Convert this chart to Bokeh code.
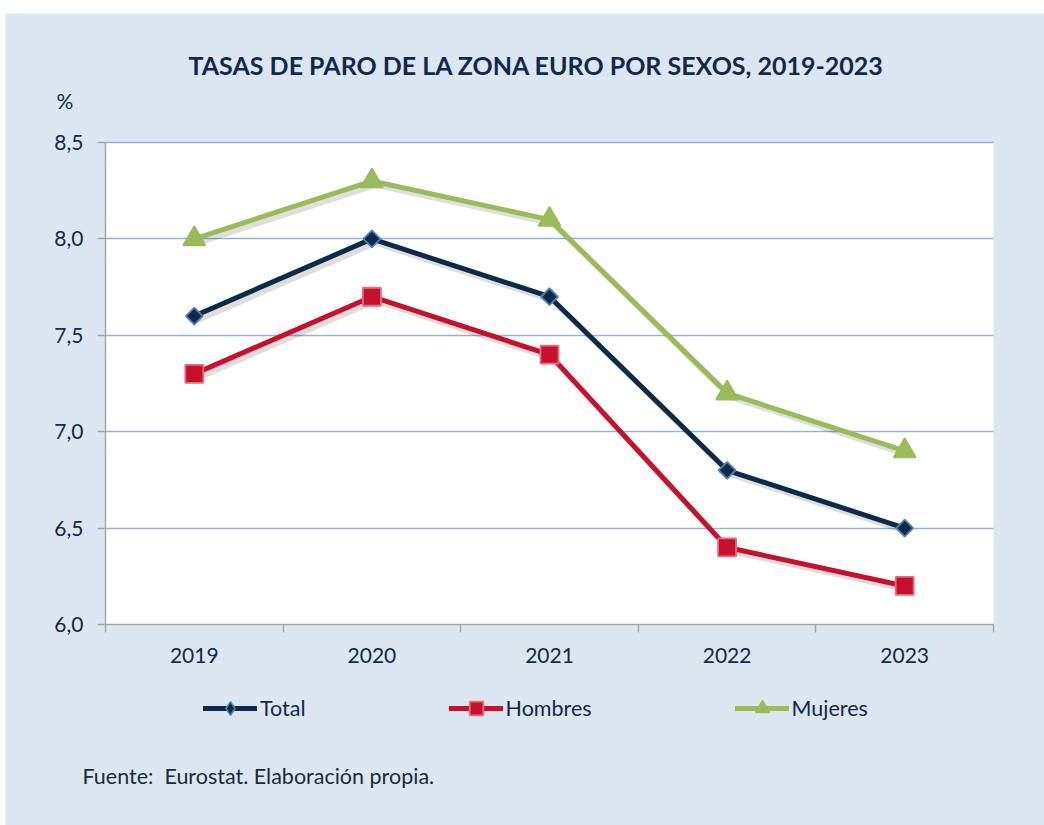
from math import pi
from bokeh.plotting import figure
from bokeh.models import Legend, LegendItem, FixedTicker, Label, Spacer, BoxAnnotation, LinearAxis
from bokeh.layouts import column, row
from bokeh.embed import file_html
from bokeh.resources import INLINE

years = ["2019", "2020", "2021", "2022", "2023"]
total = [7.6, 8.0, 7.7, 6.8, 6.5]
hombres = [7.3, 7.7, 7.4, 6.4, 6.2]
mujeres = [8.0, 8.3, 8.1, 7.2, 6.9]
y_ticks = [6.0, 6.5, 7.0, 7.5, 8.0, 8.5]
y_tick_labels = ["6,0", "6,5", "7,0", "7,5", "8,0", "8,5"]

FONT = "Lato"
NAVY = "#12294a"
BG = "#dce6f1"
GRID = "#95b3d7"
AXIS = "#a6a6a6"

n = len(years)
xs = [i + 0.5 for i in range(n)]
ymin, ymax = y_ticks[0], y_ticks[-1]

# layout geometry (pixels) -> view ranges so that the plot box sits where it should
W, H = 1039, 812
box_l, box_r, box_t, box_b = 100, 988, 129, 611
ppx = (box_r - box_l) / n
ppy = (box_b - box_t) / (ymax - ymin)
x_range = (-box_l / ppx, n + (W - box_r) / ppx)
y_range = (ymin - (H - box_b) / ppy, ymax + box_t / ppy)

p = figure(width=W, height=H, output_backend="svg", toolbar_location=None,
           x_range=x_range, y_range=y_range, min_border=0)
p.border_fill_color = BG
p.background_fill_color = BG
p.outline_line_color = None
p.add_layout(BoxAnnotation(left=0, right=n, bottom=ymin, top=ymax, fill_color="white",
                           fill_alpha=1, line_color=None, level="image"))

p.xgrid.grid_line_color = None
p.ygrid.grid_line_color = None

# horizontal gridlines drawn as long inward ticks of a secondary, label-less axis
grid_axis = LinearAxis(fixed_location=0, bounds=(ymin, ymax),
                       ticker=FixedTicker(ticks=y_ticks[1:]),
                       major_label_overrides={t: "" for t in y_ticks[1:]},
                       axis_line_color=None, major_tick_in=box_r - box_l, major_tick_out=0,
                       major_tick_line_color=GRID, major_tick_line_width=1.5,
                       minor_tick_line_color=None, level="underlay")
p.add_layout(grid_axis, "left")

p.yaxis[0].fixed_location = 0
p.yaxis[0].bounds = (ymin, ymax)
p.yaxis[0].ticker = FixedTicker(ticks=y_ticks)
p.yaxis[0].major_label_overrides = {t: l for t, l in zip(y_ticks, y_tick_labels)}
p.yaxis[0].axis_line_color = AXIS
p.yaxis[0].axis_line_width = 1.5
p.yaxis[0].major_tick_line_color = AXIS
p.yaxis[0].major_tick_line_width = 1.5
p.yaxis[0].major_tick_out = 8
p.yaxis[0].major_tick_in = 0
p.yaxis[0].minor_tick_line_color = None
p.yaxis[0].major_label_text_font = FONT
p.yaxis[0].major_label_text_font_size = "21px"
p.yaxis[0].major_label_text_color = NAVY
p.yaxis[0].major_label_standoff = 14

p.xaxis.fixed_location = ymin
p.xaxis.bounds = (0, n)
p.xaxis.ticker = FixedTicker(ticks=xs, minor_ticks=list(range(n + 1)))
p.xaxis.major_label_overrides = {x: y for x, y in zip(xs, years)}
p.xaxis.axis_line_color = AXIS
p.xaxis.axis_line_width = 1.5
p.xaxis.major_tick_line_color = None
p.xaxis.minor_tick_line_color = AXIS
p.xaxis.minor_tick_line_width = 1.5
p.xaxis.minor_tick_out = 8
p.xaxis.minor_tick_in = 0
p.xaxis.major_label_text_font = FONT
p.xaxis.major_label_text_font_size = "21px"
p.xaxis.major_label_text_color = NAVY
p.xaxis.major_label_standoff = 15

series = [
    ("Total", total, "#0f2a47", "square", 12, pi / 4, "diamond", "#0f2a47", "#4f81bd"),
    ("Hombres", hombres, "#c8102e", "square", 18, 0, None, "#c8102e", "#e0707f"),
    ("Mujeres", mujeres, "#9bbb59", "triangle", 22, 0, None, "#9bbb59", "#9bbb59"),
]

items = []
for name, vals, col, marker, size, ang, leg_marker, fill, edge in series:
    p.line([x + 0.02 for x in xs], [v - 0.02 for v in vals], line_color="#000000",
           line_alpha=0.13, line_width=6, line_join="round")
    ln = p.line(xs, vals, line_color=col, line_width=5, line_join="round", line_cap="round")
    rends = [ln]
    if leg_marker is not None:
        # small swatch marker hidden beneath the rotated square; used for the legend
        sw = p.scatter(xs, vals, marker=leg_marker, size=11, fill_color=fill,
                       line_color=edge, line_width=1.5)
        rends.append(sw)
    sc = p.scatter(xs, vals, marker=marker, size=size, angle=ang, fill_color=fill,
                   line_color=edge, line_width=1.8)
    if leg_marker is None:
        rends.append(sc)
    items.append(LegendItem(label=name, renderers=rends))

legend = Legend(items=items, orientation="horizontal", location=(198, 100),
                glyph_width=54, glyph_height=34, label_height=34, label_standoff=3,
                spacing=143, padding=0, margin=0,
                background_fill_alpha=0, border_line_color=None,
                label_text_font=FONT, label_text_font_size="21.5px", label_text_color=NAVY)
p.add_layout(legend, "center")

p.add_layout(Label(x=531, y=761, x_units="screen", y_units="screen",
                   text="TASAS DE PARO DE LA ZONA EURO POR SEXOS, 2019-2023",
                   text_font=FONT, text_font_size="25px", text_font_style="bold",
                   text_color=NAVY, text_align="center", text_baseline="middle"))
p.add_layout(Label(x=51, y=725, x_units="screen", y_units="screen", text="%",
                   text_font=FONT, text_font_size="21px", text_color=NAVY,
                   text_align="left", text_baseline="middle"))
p.add_layout(Label(x=77, y=50, x_units="screen", y_units="screen",
                   text="Fuente: \u00a0Eurostat. Elaboración propia.",
                   text_font=FONT, text_font_size="21.5px", text_color="#1a2a3a",
                   text_align="left", text_baseline="middle"))

layout = column(Spacer(height=13, width=1044), row(Spacer(width=5, height=H), p))
open("out.html", "w").write(file_html(layout, INLINE))
